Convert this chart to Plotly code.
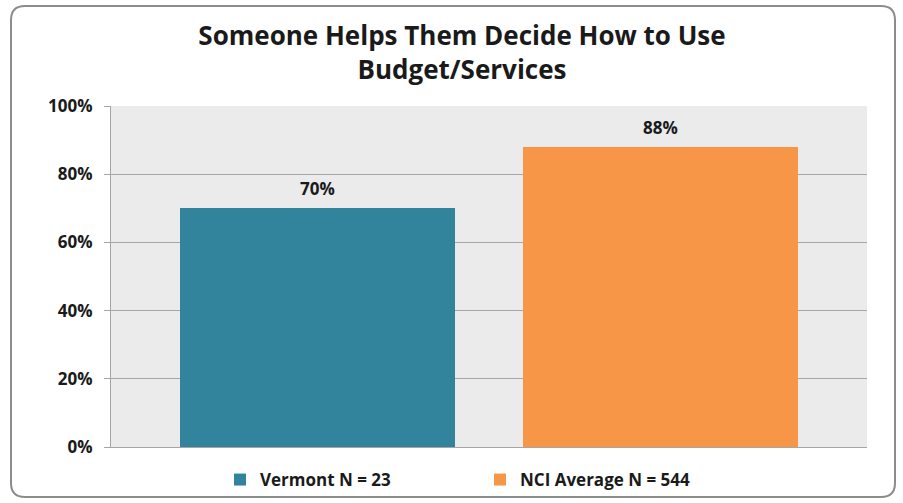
import plotly.graph_objects as go

series_names = ["Vermont N = 23", "NCI Average N = 544"]
values = [70, 88]
colors = ["#31849B", "#F79646"]
tick_vals = [0, 20, 40, 60, 80, 100]
tick_text = ["0%", "20%", "40%", "60%", "80%", "100%"]

W, H = 903, 503
L, R, T, B = 111, 36, 106, 56
FONT = "Open Sans"

fig = go.Figure()
for i, (name, v, c) in enumerate(zip(series_names, values, colors)):
    fig.add_trace(go.Bar(
        x=[i], y=[v], name=name, marker=dict(color=c, line=dict(width=0)),
        width=0.8, hoverinfo="skip",
    ))
    fig.add_annotation(x=i, y=v, xref="x", yref="y", text=f"{v}%", showarrow=False,
                       yanchor="bottom", yshift=6,
                       font=dict(family=FONT, size=17, color="#1a1a1a", weight="bold"))

pw = W - L - R
ph = H - T - B
def px(x):
    return (x - L) / pw
def py(y):
    return (H - B - y) / ph

x0, x1, y0, y1 = px(11), px(895), py(6), py(497)
rx, ry = 14 / pw, 14 / ph
path = (f"M {x0+rx},{y0} L {x1-rx},{y0} Q {x1},{y0} {x1},{y0-ry} "
        f"L {x1},{y1+ry} Q {x1},{y1} {x1-rx},{y1} L {x0+rx},{y1} "
        f"Q {x0},{y1} {x0},{y1+ry} L {x0},{y0-ry} Q {x0},{y0} {x0+rx},{y0} Z")

fig.update_layout(
    width=W, height=H,
    margin=dict(l=L, r=R, t=T, b=B, autoexpand=False),
    paper_bgcolor="white", plot_bgcolor="#EBEBEB",
    barmode="overlay", bargap=0,
    title=dict(text="Someone Helps Them Decide How to Use<br>Budget/Services",
               x=462 / W, xref="container", xanchor="center",
               y=1 - 45 / H, yref="container", yanchor="middle",
               font=dict(family=FONT, size=26, color="#1a1a1a", weight="bold")),
    xaxis=dict(range=[-0.6, 1.6], showticklabels=False, showgrid=False, zeroline=False,
               showline=True, linecolor="#A6A6A6", linewidth=1, ticks=""),
    yaxis=dict(range=[0, 100], tickvals=tick_vals, ticktext=tick_text,
               showgrid=True, gridcolor="#A6A6A6", gridwidth=1, zeroline=False,
               showline=True, linecolor="#A6A6A6", linewidth=1,
               ticks="outside", ticklen=6, tickcolor="#A6A6A6", ticklabelstandoff=8,
               tickfont=dict(family=FONT, size=17, color="#1a1a1a", weight="bold")),
    legend=dict(orientation="h", xref="container", yref="container",
                x=480 / W, xanchor="center", y=1 - 480 / H, yanchor="middle",
                font=dict(family=FONT, size=17, color="#1a1a1a", weight="bold"),
                entrywidth=215, itemwidth=30, bgcolor="rgba(0,0,0,0)"),
    shapes=[dict(type="path", xref="paper", yref="paper", path=path,
                 line=dict(color="#8C8C8C", width=2), fillcolor="rgba(0,0,0,0)", layer="below")],
    showlegend=True,
)

fig.write_html("out.html", config={"displayModeBar": False},
               post_script="document.body.style.margin='0px';document.body.style.padding='0px';")
